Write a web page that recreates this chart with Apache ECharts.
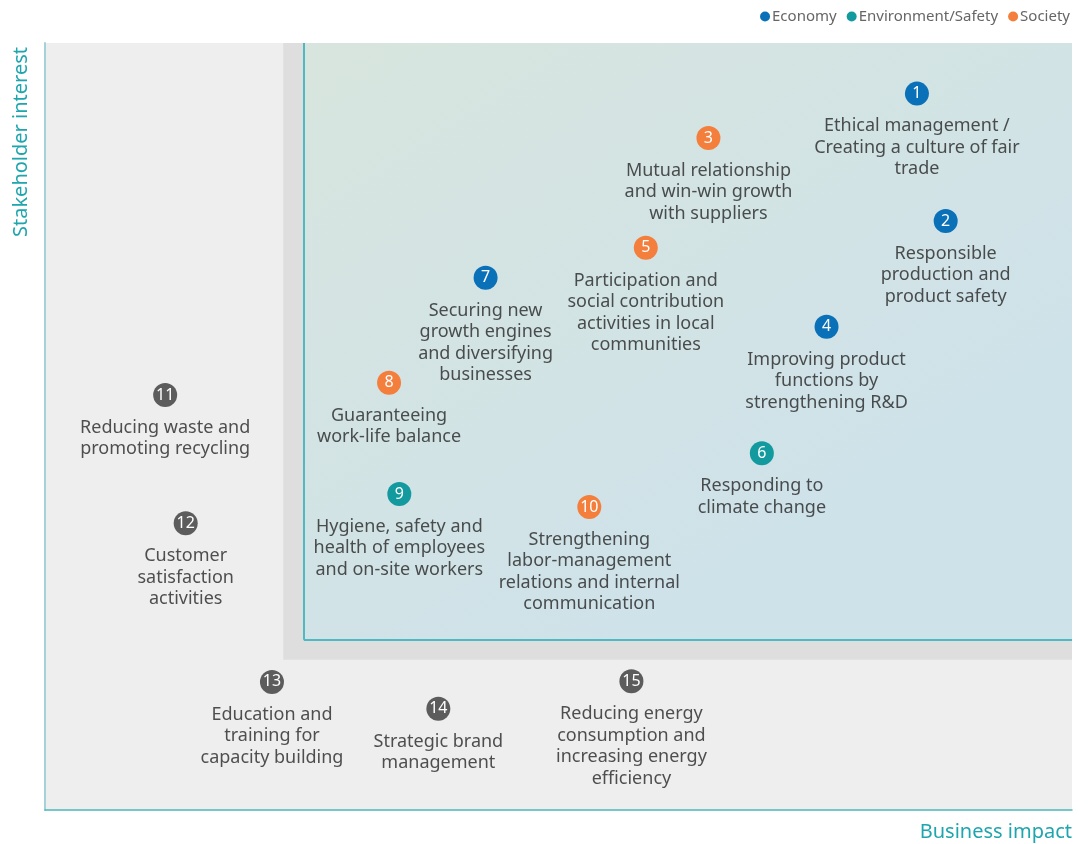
<!DOCTYPE html>
<html>
<head>
<meta charset="utf-8">
<script src="https://cdn.jsdelivr.net/npm/echarts@6/dist/echarts.min.js"></script>
<style>
html,body{margin:0;padding:0;background:#fff;}
#matrix{width:1091px;height:844px;}
</style>
</head>
<body>
<div id="matrix"></div>
<script>
// issue numbers, labels, positions (0-100 on both axes) and category
var ids = [1,2,3,4,5,6,7,8,9,10,11,12,13,14,15];
var labels = [
    'Ethical management /\nCreating a culture of fair\ntrade',
    'Responsible\nproduction and\nproduct safety',
    'Mutual relationship\nand win-win growth\nwith suppliers',
    'Improving product\nfunctions by\nstrengthening R&D',
    'Participation and\nsocial contribution\nactivities in local\ncommunities',
    'Responding to\nclimate change',
    'Securing new\ngrowth engines\nand diversifying\nbusinesses',
    'Guaranteeing\nwork-life balance',
    'Hygiene, safety and\nhealth of employees\nand on-site workers',
    'Strengthening\nlabor-management\nrelations and internal\ncommunication',
    'Reducing waste and\npromoting recycling',
    'Customer\nsatisfaction\nactivities',
    'Education and\ntraining for\ncapacity building',
    'Strategic brand\nmanagement',
    'Reducing energy\nconsumption and\nincreasing energy\nefficiency'
];
var businessImpact = [84.9,87.7,64.6,76.1,58.5,69.8,42.9,33.5,34.5,53.0,11.7,13.7,22.1,38.3,57.1];
var stakeholderInterest = [93.4,76.8,87.6,63.0,73.3,46.5,69.4,55.7,41.2,39.5,54.1,37.4,16.7,13.2,16.8];
var groups = ['Economy','Economy','Society','Economy','Society','Environment/Safety','Economy','Society','Environment/Safety','Society','Other','Other','Other','Other','Other'];

var categories = ['Economy','Environment/Safety','Society','Other'];
var catColors = ['#0a70b8','#129a9e','#f47e3c','#5c5c5c'];

// zone limits (axis values)
var bandX = 23.2, bandY = 19.6;
var coreX = 25.2, coreY = 22.2;

var mychart = echarts.init(document.getElementById('matrix'));
var font = '"Noto Sans", sans-serif';

var series = [];

// background zones
series.push({
    name: 'zones',
    type: 'scatter',
    data: [],
    silent: true,
    z: 1,
    markArea: {
        silent: true,
        label: {show: false},
        data: [
            [{coord: [bandX, bandY], itemStyle: {color: '#dedede'}}, {coord: [100, 100]}],
            [{coord: [coreX, coreY], itemStyle: {color: {
                type: 'linear', x: 0, y: 0, x2: 0.5, y2: 1,
                colorStops: [{offset: 0, color: '#d8e5de'}, {offset: 1, color: '#cee2ea'}]
            }}}, {coord: [100, 100]}]
        ]
    },
    markLine: {
        silent: true,
        symbol: 'none',
        label: {show: false},
        lineStyle: {color: '#4fb9c1', width: 2, type: 'solid'},
        data: [
            [{coord: [coreX, coreY]}, {coord: [coreX, 100]}],
            [{coord: [coreX, coreY]}, {coord: [100, coreY]}]
        ]
    }
});

// numbered circles, one series per category
for (var c = 0; c < categories.length; c++) {
    var pts = [];
    for (var i = 0; i < ids.length; i++) {
        if (groups[i] === categories[c]) {
            pts.push([businessImpact[i], stakeholderInterest[i], ids[i]]);
        }
    }
    series.push({
        name: categories[c],
        type: 'scatter',
        symbol: 'circle',
        symbolSize: 24,
        z: 5,
        itemStyle: {color: catColors[c], opacity: 1},
        label: {
            show: true,
            position: 'inside',
            color: '#fff',
            fontFamily: font,
            fontSize: 16,
            formatter: function (p) { return p.value[2]; }
        },
        data: pts
    });
}

// issue texts below the circles
var textPts = [];
for (var i = 0; i < ids.length; i++) {
    textPts.push([businessImpact[i], stakeholderInterest[i], labels[i]]);
}
series.push({
    name: 'texts',
    type: 'scatter',
    symbolSize: 24,
    silent: true,
    z: 4,
    itemStyle: {color: 'rgba(0,0,0,0)'},
    label: {
        show: true,
        position: 'bottom',
        distance: 10,
        align: 'center',
        color: '#262626',
        fontFamily: font,
        fontSize: 18,
        lineHeight: 21.5,
        formatter: function (p) { return p.value[2]; }
    },
    data: textPts
});

option = {
    animation: false,
    backgroundColor: '#fff',
    legend: {
        data: ['Economy','Environment/Safety','Society'],
        right: 16,
        top: 4,
        icon: 'circle',
        itemWidth: 10,
        itemHeight: 10,
        itemGap: 10,
        selectedMode: false,
        textStyle: {color: '#666', fontSize: 15, fontFamily: font, padding: [0, 0, 0, -3]}
    },
    grid: {
        left: 45, right: 19, top: 43, bottom: 34,
        show: true,
        backgroundColor: '#eeeeee',
        borderWidth: 0
    },
    xAxis: {
        type: 'value', min: 0, max: 100,
        axisLine: {show: true, onZero: false, lineStyle: {color: '#4db6bf', width: 1.5}},
        axisTick: {show: false},
        axisLabel: {show: false},
        splitLine: {show: false}
    },
    yAxis: {
        type: 'value', min: 0, max: 100,
        axisLine: {show: true, onZero: false, lineStyle: {color: '#a3d3d8', width: 2}},
        axisTick: {show: false},
        axisLabel: {show: false},
        splitLine: {show: false}
    },
    graphic: [
        {
            type: 'text',
            right: 19,
            top: 822,
            style: {text: 'Business impact', fill: '#1fa5ae', font: '20px ' + font}
        },
        {
            type: 'text',
            x: 11,
            y: 237,
            rotation: Math.PI / 2,
            style: {text: 'Stakeholder interest', fill: '#1fa5ae', font: '20px ' + font, textAlign: 'left', textVerticalAlign: 'top'}
        }
    ],
    series: series
};
mychart.setOption(option);
</script>
</body>
</html>
